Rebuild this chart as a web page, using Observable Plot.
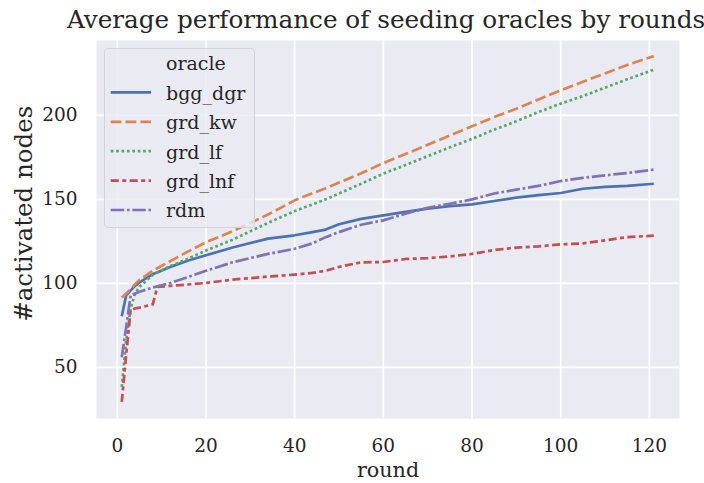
<!DOCTYPE html>
<html>
<head>
<meta charset="utf-8">
<script src="https://cdn.jsdelivr.net/npm/d3@7"></script>
<script src="https://cdn.jsdelivr.net/npm/@observablehq/plot@0.6"></script>
<style>
  html, body { margin: 0; padding: 0; background: #ffffff; }
  #wrap { position: relative; width: 704px; height: 483px; font-family: "DejaVu Serif", serif; color: #262626; }
  #wrap svg text, #wrap svg tspan { font-family: "DejaVu Serif", serif !important; }
  #legend { position: absolute; left: 104px; top: 48px; width: 149px; height: 178px;
            border: 1px solid #d2d2d8; border-radius: 4px; background: rgba(234,234,242,0.8); }
</style>
</head>
<body>
<div id="wrap"></div>
<script>
const titleText = "Average performance of seeding oracles by rounds";
const xLabel = "round";
const yLabel = "#activated nodes";
const legendTitle = "oracle";
const seriesNames = ["bgg_dgr", "grd_kw", "grd_lf", "grd_lnf", "rdm"];
const seriesColors = ["#4c72b0", "#dd8452", "#55a868", "#c44e52", "#8172b3"];
const seriesDashes = ["none", "10.8,4.05", "2.7,2.7", "8.1,3.4,4.05,3.4", "13.5,2.7,2.7,2.7"];
const xTicks = [0, 20, 40, 60, 80, 100, 120];
const yTicks = [50, 100, 150, 200];

const rounds = [1, 2, 3, 4, 5, 8, 9, 12, 16, 20, 26, 34, 40, 44, 47, 50, 55, 60, 65, 70, 75, 80, 85, 90, 95, 100, 105, 110, 115, 121];
const bgg_dgr = [80.4, 92.9, 95.8, 98.5, 100.5, 105.5, 106.5, 109.8, 113.6, 116.7, 121.3, 126.6, 128.6, 130.5, 132, 135.2, 138.4, 140.5, 142.5, 144.5, 146, 147, 149, 151, 152.5, 153.8, 156.3, 157.4, 158, 159.3];
const grd_kw = [91.5, 94, 96.5, 99.5, 102, 107.5, 109, 113.3, 119, 124.5, 131, 141, 149.4, 153.6, 156.6, 160, 165.5, 171.6, 177, 182.5, 188, 193.5, 199, 204, 209.5, 214.9, 220, 225, 230, 235.3];
const grd_lf = [38.3, 66, 85, 93.9, 98, 105, 106.5, 110.3, 114.7, 119.5, 126, 136, 143, 147, 150, 153.5, 159.3, 165.3, 170.5, 175.8, 181, 186, 191.5, 196.5, 202, 207, 211.5, 216.5, 221.5, 227.2];
const grd_lnf = [29.4, 57.7, 84, 85, 85.5, 87.5, 97.8, 98.5, 99.3, 100.2, 102.2, 104, 105.2, 106.2, 107.5, 109.8, 112.5, 112.7, 114.5, 115, 116, 117.5, 119.8, 121.3, 122, 123.2, 123.8, 125.6, 127.5, 128.4];
const rdm = [56, 74, 92.9, 94, 95, 97.5, 98.2, 100.2, 103.8, 107.5, 112.5, 117.5, 120.6, 123.8, 127.5, 130.5, 134.9, 137.5, 141.5, 145, 147.4, 150, 153.5, 155.8, 158, 160.9, 162.8, 164.3, 165.7, 167.7];

const seriesValues = [bgg_dgr, grd_kw, grd_lf, grd_lnf, rdm];
const FONT = "DejaVu Serif, serif";
const LW = 2.7;

const lineMarks = seriesNames.map((name, i) => {
  const data = rounds.map((r, j) => ({round: r, value: seriesValues[i][j]}));
  return Plot.line(data, {
    x: "round", y: "value",
    stroke: seriesColors[i], strokeWidth: LW,
    strokeDasharray: seriesDashes[i] === "none" ? undefined : seriesDashes[i],
    strokeLinecap: "butt", strokeLinejoin: "round"
  });
});

const chart = Plot.plot({
  width: 704,
  height: 483,
  marginLeft: 96,
  marginRight: 25,
  marginTop: 40,
  marginBottom: 65,
  style: {fontFamily: FONT, color: "#262626", background: "transparent"},
  x: {domain: [-4.7, 126.8], ticks: xTicks},
  y: {domain: [19.5, 244.6], ticks: yTicks},
  marks: [
    Plot.frame({fill: "#eaeaf2", stroke: null}),
    Plot.gridX(xTicks, {stroke: "#ffffff", strokeOpacity: 1, strokeWidth: 1.7}),
    Plot.gridY(yTicks, {stroke: "#ffffff", strokeOpacity: 1, strokeWidth: 1.7}),
    ...lineMarks,
    Plot.axisX(xTicks, {tickSize: 0, tickPadding: 20.6, fontSize: 18.5, label: null, fill: "#262626", fontFamily: FONT}),
    Plot.axisY(yTicks, {tickSize: 0, tickPadding: 19, fontSize: 18.5, label: null, fill: "#262626", fontFamily: FONT}),
    Plot.text([titleText], {frameAnchor: "top", textAnchor: "middle", lineAnchor: "middle", dy: -20.8, dx: -2, fontSize: 24.7, fill: "#262626", fontFamily: FONT}),
    Plot.text([xLabel], {frameAnchor: "bottom", textAnchor: "middle", lineAnchor: "middle", dy: 52, fontSize: 20.7, fill: "#262626", fontFamily: FONT}),
    Plot.text([yLabel], {frameAnchor: "left", textAnchor: "middle", lineAnchor: "middle", rotate: -90, dx: -72, dy: -15.7, fontSize: 24.5, fill: "#262626", fontFamily: FONT})
  ]
});

const wrap = document.getElementById("wrap");
wrap.appendChild(chart);

// Legend overlay
const legend = document.createElement("div");
legend.id = "legend";
const ns = "http://www.w3.org/2000/svg";
const lsvg = document.createElementNS(ns, "svg");
lsvg.setAttribute("width", 149);
lsvg.setAttribute("height", 178);
lsvg.style.display = "block";
const rowY0 = 14, rowStep = 29.4;
const addText = (txt, y) => {
  const t = document.createElementNS(ns, "text");
  t.setAttribute("x", 61);
  t.setAttribute("y", y + 7.4);
  t.style.fontFamily = "'DejaVu Serif', serif";
  t.style.fontSize = "19px";
  t.setAttribute("fill", "#262626");
  t.textContent = txt;
  lsvg.appendChild(t);
};
addText(legendTitle, rowY0);
seriesNames.forEach((name, i) => {
  const y = rowY0 + rowStep * (i + 1);
  const l = document.createElementNS(ns, "line");
  l.setAttribute("x1", 5.7); l.setAttribute("x2", 46);
  l.setAttribute("y1", y); l.setAttribute("y2", y);
  l.setAttribute("stroke", seriesColors[i]);
  l.setAttribute("stroke-width", LW);
  if (seriesDashes[i] !== "none") l.setAttribute("stroke-dasharray", seriesDashes[i]);
  lsvg.appendChild(l);
  addText(name, y);
});
legend.appendChild(lsvg);
wrap.appendChild(legend);
</script>
</body>
</html>
